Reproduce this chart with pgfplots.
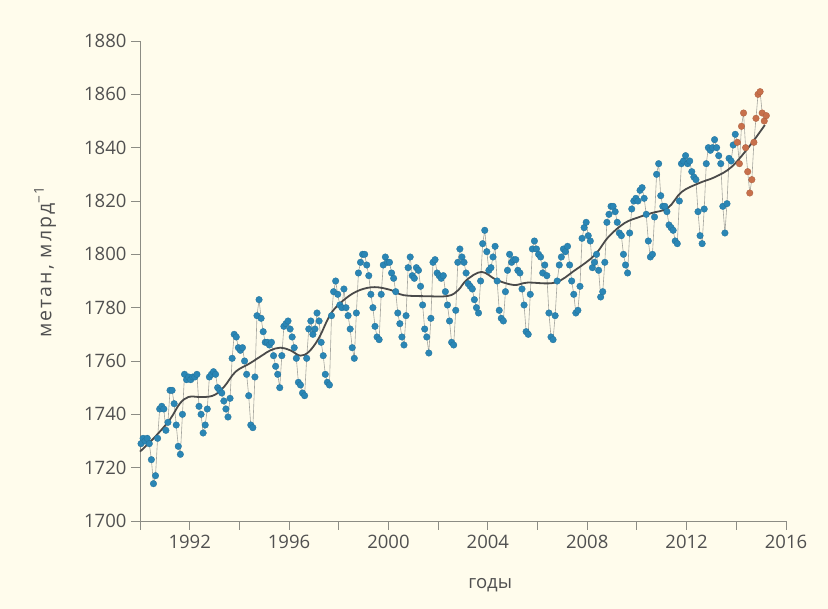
\documentclass[border=0pt]{standalone}
\usepackage{pgfplots}
\pgfplotsset{compat=1.18}
\usepackage{pgfplotstable}
\usepackage{fontspec}
\setmainfont{Open Sans}
\definecolor{bg}{HTML}{FFFCEC}
\definecolor{dotblue}{HTML}{2A86B5}
\definecolor{dotorange}{HTML}{C8704B}
\definecolor{txt}{HTML}{505050}
\definecolor{axisgray}{HTML}{8C8C84}
\definecolor{trend}{HTML}{4A4A4A}
\definecolor{thinline}{HTML}{A5A59E}

\pgfplotstableread[row sep=\\]{
y m v c \\
1990 1 1729 b \\ 1990 2 1731 b \\ 1990 3 1730 b \\ 1990 4 1731 b \\ 1990 5 1729 b \\ 1990 6 1723 b \\ 1990 7 1714 b \\ 1990 8 1717 b \\ 1990 9 1731 b \\ 1990 10 1742 b \\ 1990 11 1743 b \\ 1990 12 1742 b \\
1991 1 1734 b \\ 1991 2 1737 b \\ 1991 3 1749 b \\ 1991 4 1749 b \\ 1991 5 1744 b \\ 1991 6 1736 b \\ 1991 7 1728 b \\ 1991 8 1725 b \\ 1991 9 1740 b \\ 1991 10 1755 b \\ 1991 11 1753 b \\ 1991 12 1754 b \\
1992 1 1753 b \\ 1992 2 1754 b \\ 1992 3 1754 b \\ 1992 4 1755 b \\ 1992 5 1743 b \\ 1992 6 1740 b \\ 1992 7 1733 b \\ 1992 8 1736 b \\ 1992 9 1742 b \\ 1992 10 1754 b \\ 1992 11 1755 b \\ 1992 12 1756 b \\
1993 1 1755 b \\ 1993 2 1750 b \\ 1993 3 1749 b \\ 1993 4 1748 b \\ 1993 5 1745 b \\ 1993 6 1742 b \\ 1993 7 1739 b \\ 1993 8 1746 b \\ 1993 9 1761 b \\ 1993 10 1770 b \\ 1993 11 1769 b \\ 1993 12 1765 b \\
1994 1 1764 b \\ 1994 2 1765 b \\ 1994 3 1760 b \\ 1994 4 1755 b \\ 1994 5 1747 b \\ 1994 6 1736 b \\ 1994 7 1735 b \\ 1994 8 1754 b \\ 1994 9 1777 b \\ 1994 10 1783 b \\ 1994 11 1776 b \\ 1994 12 1771 b \\
1995 1 1767 b \\ 1995 2 1767 b \\ 1995 3 1766 b \\ 1995 4 1767 b \\ 1995 5 1762 b \\ 1995 6 1758 b \\ 1995 7 1755 b \\ 1995 8 1750 b \\ 1995 9 1762 b \\ 1995 10 1773 b \\ 1995 11 1774 b \\ 1995 12 1775 b \\
1996 1 1772 b \\ 1996 2 1769 b \\ 1996 3 1765 b \\ 1996 4 1761 b \\ 1996 5 1752 b \\ 1996 6 1751 b \\ 1996 7 1748 b \\ 1996 8 1747 b \\ 1996 9 1761 b \\ 1996 10 1772 b \\ 1996 11 1775 b \\ 1996 12 1770 b \\
1997 1 1772 b \\ 1997 2 1778 b \\ 1997 3 1775 b \\ 1997 4 1767 b \\ 1997 5 1762 b \\ 1997 6 1755 b \\ 1997 7 1752 b \\ 1997 8 1751 b \\ 1997 9 1777 b \\ 1997 10 1786 b \\ 1997 11 1790 b \\ 1997 12 1785 b \\
1998 1 1781 b \\ 1998 2 1780 b \\ 1998 3 1787 b \\ 1998 4 1780 b \\ 1998 5 1777 b \\ 1998 6 1772 b \\ 1998 7 1765 b \\ 1998 8 1761 b \\ 1998 9 1778 b \\ 1998 10 1793 b \\ 1998 11 1797 b \\ 1998 12 1800 b \\
1999 1 1800 b \\ 1999 2 1796 b \\ 1999 3 1792 b \\ 1999 4 1785 b \\ 1999 5 1780 b \\ 1999 6 1773 b \\ 1999 7 1769 b \\ 1999 8 1768 b \\ 1999 9 1785 b \\ 1999 10 1796 b \\ 1999 11 1799 b \\ 1999 12 1797 b \\
2000 1 1797 b \\ 2000 2 1793 b \\ 2000 3 1791 b \\ 2000 4 1786 b \\ 2000 5 1778 b \\ 2000 6 1774 b \\ 2000 7 1769 b \\ 2000 8 1766 b \\ 2000 9 1777 b \\ 2000 10 1795 b \\ 2000 11 1799 b \\ 2000 12 1792 b \\
2001 1 1791 b \\ 2001 2 1795 b \\ 2001 3 1794 b \\ 2001 4 1788 b \\ 2001 5 1781 b \\ 2001 6 1772 b \\ 2001 7 1769 b \\ 2001 8 1763 b \\ 2001 9 1776 b \\ 2001 10 1797 b \\ 2001 11 1798 b \\ 2001 12 1793 b \\
2002 1 1792 b \\ 2002 2 1791 b \\ 2002 3 1792 b \\ 2002 4 1786 b \\ 2002 5 1781 b \\ 2002 6 1775 b \\ 2002 7 1767 b \\ 2002 8 1766 b \\ 2002 9 1779 b \\ 2002 10 1797 b \\ 2002 11 1802 b \\ 2002 12 1799 b \\
2003 1 1797 b \\ 2003 2 1793 b \\ 2003 3 1789 b \\ 2003 4 1788 b \\ 2003 5 1787 b \\ 2003 6 1783 b \\ 2003 7 1780 b \\ 2003 8 1778 b \\ 2003 9 1790 b \\ 2003 10 1804 b \\ 2003 11 1809 b \\ 2003 12 1801 b \\
2004 1 1794 b \\ 2004 2 1795 b \\ 2004 3 1799 b \\ 2004 4 1803 b \\ 2004 5 1790 b \\ 2004 6 1779 b \\ 2004 7 1776 b \\ 2004 8 1775 b \\ 2004 9 1786 b \\ 2004 10 1794 b \\ 2004 11 1800 b \\ 2004 12 1797 b \\
2005 1 1798 b \\ 2005 2 1798 b \\ 2005 3 1794 b \\ 2005 4 1793 b \\ 2005 5 1787 b \\ 2005 6 1781 b \\ 2005 7 1771 b \\ 2005 8 1770 b \\ 2005 9 1785 b \\ 2005 10 1802 b \\ 2005 11 1805 b \\ 2005 12 1802 b \\
2006 1 1800 b \\ 2006 2 1799 b \\ 2006 3 1793 b \\ 2006 4 1796 b \\ 2006 5 1792 b \\ 2006 6 1778 b \\ 2006 7 1769 b \\ 2006 8 1768 b \\ 2006 9 1777 b \\ 2006 10 1790 b \\ 2006 11 1796 b \\ 2006 12 1799 b \\
2007 1 1802 b \\ 2007 2 1801 b \\ 2007 3 1803 b \\ 2007 4 1796 b \\ 2007 5 1790 b \\ 2007 6 1785 b \\ 2007 7 1778 b \\ 2007 8 1779 b \\ 2007 9 1788 b \\ 2007 10 1806 b \\ 2007 11 1810 b \\ 2007 12 1812 b \\
2008 1 1807 b \\ 2008 2 1805 b \\ 2008 3 1795 b \\ 2008 4 1797 b \\ 2008 5 1800 b \\ 2008 6 1794 b \\ 2008 7 1784 b \\ 2008 8 1786 b \\ 2008 9 1797 b \\ 2008 10 1812 b \\ 2008 11 1815 b \\ 2008 12 1818 b \\
2009 1 1818 b \\ 2009 2 1816 b \\ 2009 3 1812 b \\ 2009 4 1808 b \\ 2009 5 1807 b \\ 2009 6 1800 b \\ 2009 7 1796 b \\ 2009 8 1793 b \\ 2009 9 1808 b \\ 2009 10 1817 b \\ 2009 11 1820 b \\ 2009 12 1821 b \\
2010 1 1820 b \\ 2010 2 1824 b \\ 2010 3 1825 b \\ 2010 4 1821 b \\ 2010 5 1815 b \\ 2010 6 1805 b \\ 2010 7 1799 b \\ 2010 8 1800 b \\ 2010 9 1814 b \\ 2010 10 1830 b \\ 2010 11 1834 b \\ 2010 12 1822 b \\
2011 1 1818 b \\ 2011 2 1818 b \\ 2011 3 1816 b \\ 2011 4 1811 b \\ 2011 5 1810 b \\ 2011 6 1809 b \\ 2011 7 1805 b \\ 2011 8 1804 b \\ 2011 9 1820 b \\ 2011 10 1834 b \\ 2011 11 1835 b \\ 2011 12 1837 b \\
2012 1 1834 b \\ 2012 2 1835 b \\ 2012 3 1831 b \\ 2012 4 1829 b \\ 2012 5 1828 b \\ 2012 6 1816 b \\ 2012 7 1807 b \\ 2012 8 1804 b \\ 2012 9 1817 b \\ 2012 10 1834 b \\ 2012 11 1840 b \\ 2012 12 1839 b \\
2013 1 1840 b \\ 2013 2 1843 b \\ 2013 3 1840 b \\ 2013 4 1837 b \\ 2013 5 1834 b \\ 2013 6 1818 b \\ 2013 7 1808 b \\ 2013 8 1819 b \\ 2013 9 1836 b \\ 2013 10 1835 b \\ 2013 11 1841 b \\ 2013 12 1845 b \\
2014 1 1842 o \\ 2014 2 1834 o \\ 2014 3 1848 o \\ 2014 4 1853 o \\ 2014 5 1840 o \\ 2014 6 1831 o \\ 2014 7 1823 o \\ 2014 8 1828 o \\ 2014 9 1842 o \\ 2014 10 1851 o \\ 2014 11 1860 o \\ 2014 12 1861 o \\
2015 1 1853 o \\ 2015 2 1850 o \\ 2015 3 1852 o \\
}\methane

\pgfplotstableread[row sep=\\]{
x y \\
1990.0 1726 \\ 1990.6 1731.5 \\ 1991.2 1738 \\ 1991.6 1744 \\ 1991.95 1746.5 \\ 1992.4 1746.5 \\
1992.75 1746.6 \\ 1993.05 1747.5 \\ 1993.4 1750.5 \\ 1993.85 1756 \\ 1994.4 1759 \\ 1994.9 1762 \\
1995.25 1764 \\ 1995.65 1765 \\ 1996.05 1764 \\ 1996.45 1762 \\ 1996.8 1763.5 \\ 1997.2 1768.6 \\
1997.7 1778 \\ 1998.3 1783.6 \\ 1998.85 1786.6 \\ 1999.45 1787.7 \\ 2000.1 1786.6 \\ 2000.6 1784.7 \\
2001.5 1784.3 \\ 2002.4 1784.4 \\ 2002.8 1786.5 \\ 2003.15 1790.4 \\ 2003.75 1793.4 \\ 2004.35 1790.4 \\
2005.05 1788.5 \\ 2005.6 1789.4 \\ 2006.7 1789.4 \\ 2007.5 1794 \\ 2008.3 1799.7 \\ 2008.85 1806.5 \\
2009.5 1811.7 \\ 2010.1 1814 \\ 2010.6 1815.5 \\ 2011.25 1817.4 \\ 2011.8 1823.4 \\ 2012.5 1826.7 \\
2013.15 1829 \\ 2013.8 1832.7 \\ 2014.5 1840.2 \\ 2015.15 1848.5 \\
}\trenddata

\begin{document}
\begin{tikzpicture}
\fill[bg] (-140pt,-88pt) rectangle (688pt,521pt);
\begin{axis}[
  at={(0pt,0pt)}, anchor=south west,
  scale only axis, width=646pt, height=480pt,
  xmin=1990, xmax=2016, ymin=1700, ymax=1880,
  axis x line*=bottom, axis y line*=left,
  axis line style={axisgray, line width=0.9pt, -},
  tick style={axisgray, line width=0.9pt},
  tick align=outside, major tick length=9pt,
  xtick={1990,1992,...,2016},
  xticklabels={,1992,,1996,,2000,,2004,,2008,,2012,,2016},
  ytick={1700,1720,...,1880},
  yticklabels={1700,1720,1740,1760,1780,1800,1820,1840,1860,1880},
  /pgf/number format/assume math mode=true,
  ticklabel style={font=\fontsize{18.5}{22}\selectfont, text=txt},
  xticklabel style={yshift=-2pt},
  yticklabel style={xshift=-1pt},
  xlabel={годы},
  ylabel={метан, млрд\textsuperscript{−1}},
  xlabel style={font=\fontsize{18.5}{22}\selectfont, text=txt,
    at={(axis description cs:0.542,-0.133)}, anchor=center},
  ylabel style={font=\fontsize{19.5}{23}\selectfont\addfontfeature{LetterSpace=10}, text=txt,
    at={(axis description cs:-0.147,0.54)}, anchor=center},
  clip=false,
]
\addplot[thinline, line width=0.6pt, no marks]
  table[x expr=\thisrow{y}+(\thisrow{m}-0.5)/12, y=v] {\methane};
\addplot[scatter, only marks, scatter src=explicit symbolic,
  scatter/classes={
    b={mark=*, mark size=3.3pt, draw=dotblue!85!black, fill=dotblue, line width=0.3pt},
    o={mark=*, mark size=3.3pt, draw=dotorange!85!black, fill=dotorange, line width=0.3pt}}]
  table[x expr=\thisrow{y}+(\thisrow{m}-0.5)/12, y=v, meta=c] {\methane};
\addplot[trend, line width=1.8pt, smooth, tension=0.6, no marks]
  table[x=x, y=y] {\trenddata};
\end{axis}
\pgfresetboundingbox
\path (-140pt,-88pt) rectangle (688pt,521pt);
\end{tikzpicture}
\end{document}
